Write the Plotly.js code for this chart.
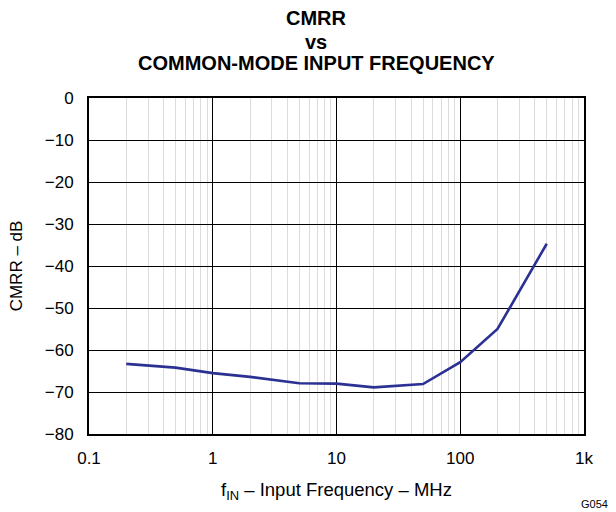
<!DOCTYPE html>
<html><head><meta charset="utf-8">
<script src="https://cdn.plot.ly/plotly-3.0.1.min.js"></script>
<style>body{margin:0;background:#fff}#c{width:616px;height:512px}</style>
</head><body><div id="c"></div>
<script>
const freqMHz = [0.2, 0.5, 1, 2, 5, 10, 20, 50, 100, 200, 500];
const cmrrDb = [-63.3, -64.2, -65.5, -66.4, -67.9, -68.0, -68.9, -68.1, -62.9, -55.0, -34.7];
const xTickVals = [0.1, 1, 10, 100, 1000];
const xTickText = ['0.1', '1', '10', '100', '1k'];
const yTickVals = [-80, -70, -60, -50, -40, -30, -20, -10, 0];
const titleLines = ['CMRR', 'vs', 'COMMON-MODE INPUT FREQUENCY'];

const minorVals = [];
for (let d = 0.1; d < 1000; d *= 10) for (let k = 2; k <= 9; k++) minorVals.push(+(d * k).toPrecision(3));

const font = 'Liberation Sans, Arial, sans-serif';
const titleY = [1.237, 1.166, 1.103];
const annotations = titleLines.map((t, i) => ({
  text: '<b>' + t + '</b>', xref: 'paper', yref: 'paper', x: 0.459, y: titleY[i],
  xanchor: 'center', yanchor: 'middle', showarrow: false,
  font: {family: font, size: 20, color: '#000'}
}));
annotations.push({text: 'G054', xref: 'paper', yref: 'paper', x: 1.052, y: -0.208,
  xanchor: 'right', yanchor: 'middle', showarrow: false, font: {family: font, size: 11, color: '#000'}});

Plotly.newPlot('c', [{
  x: freqMHz, y: cmrrDb, type: 'scatter', mode: 'lines',
  line: {color: '#2b3192', width: 2.6}, hoverinfo: 'skip'
}], {
  width: 616, height: 512,
  margin: {l: 89, r: 32, t: 98, b: 78},
  paper_bgcolor: '#fff', plot_bgcolor: '#fff',
  showlegend: false,
  font: {family: font, color: '#000', size: 17},
  xaxis: {type: 'log', range: [-1, 3], tickvals: xTickVals, ticktext: xTickText,
    showgrid: true, gridcolor: '#000', gridwidth: 1, ticks: '', zeroline: false,
    showline: true, linecolor: '#000', linewidth: 2, mirror: true,
    minor: {tickvals: minorVals, showgrid: true, gridcolor: '#dcdcdc', gridwidth: 1, ticks: ''},
    tickfont: {size: 17}, ticklabelstandoff: 8,
    title: {text: 'f<sub>IN</sub> – Input Frequency – MHz', font: {size: 18.5}, standoff: 16}},
  yaxis: {range: [-80, 0], tickvals: yTickVals,
    showgrid: true, gridcolor: '#000', gridwidth: 1, ticks: '', zeroline: false,
    showline: true, linecolor: '#000', linewidth: 2, mirror: true,
    tickfont: {size: 17}, ticklabelstandoff: 10,
    title: {text: 'CMRR – dB', font: {size: 17}, standoff: 18}},
  annotations: annotations
}, {staticPlot: true});
</script></body></html>
